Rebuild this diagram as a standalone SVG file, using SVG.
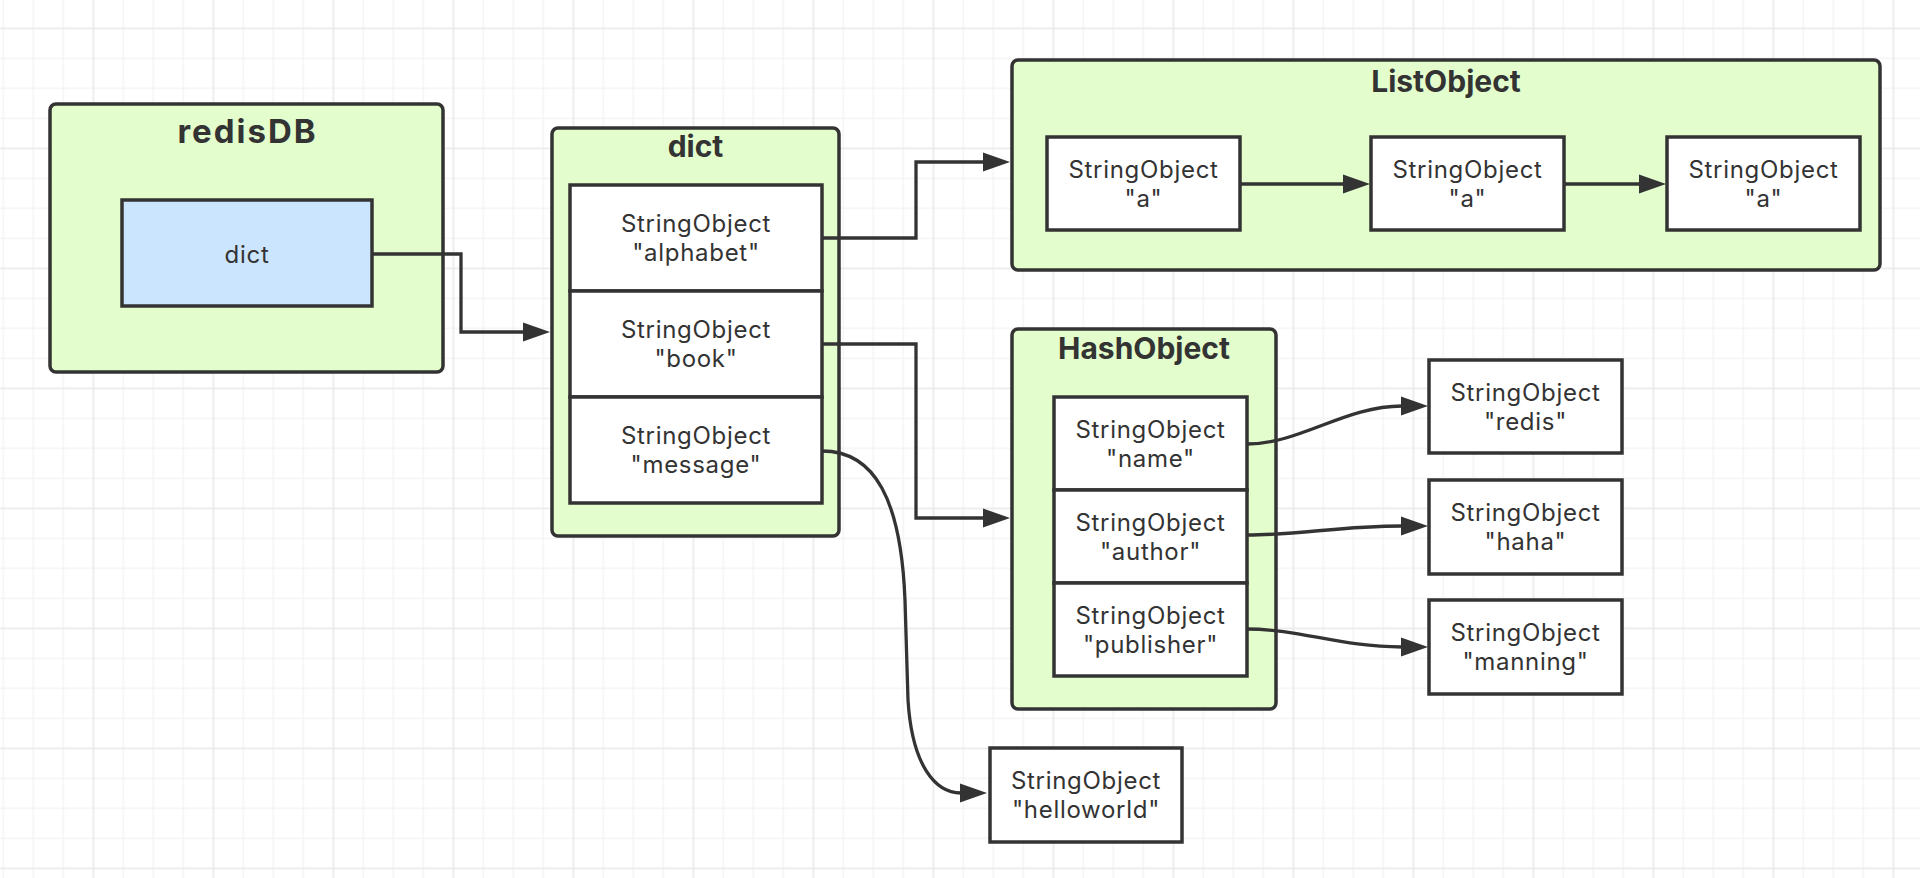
<svg xmlns="http://www.w3.org/2000/svg" width="1920" height="878" viewBox="0 0 1920 878">
<defs>
<pattern id="grid" patternUnits="userSpaceOnUse" x="-27.4" y="27.6" width="120" height="120">
<rect x="0" y="0" width="120" height="120" fill="#ffffff"/>
<rect x="30" y="0" width="1.3" height="120" fill="#f3f3f3"/>
<rect x="60" y="0" width="1.3" height="120" fill="#f3f3f3"/>
<rect x="90" y="0" width="1.3" height="120" fill="#f3f3f3"/>
<rect x="0" y="30" width="120" height="1.3" fill="#f3f3f3"/>
<rect x="0" y="60" width="120" height="1.3" fill="#f3f3f3"/>
<rect x="0" y="90" width="120" height="1.3" fill="#f3f3f3"/>
<rect x="0" y="0" width="1.5" height="120" fill="#e8e8e8"/>
<rect x="0" y="0" width="120" height="1.5" fill="#e8e8e8"/>
</pattern>
<marker id="arrow" markerUnits="userSpaceOnUse" markerWidth="28" markerHeight="20" viewBox="0 0 28 20" refX="1" refY="10" orient="auto">
<path d="M0,0.5 L27,10 L0,19.5 Z" fill="#333333"/>
</marker>
<style>
.container{fill:#e4fdcc;stroke:#333333;stroke-width:3.5}
.box{fill:#ffffff;stroke:#333333;stroke-width:3.5}
.blue{fill:#cce5ff;stroke:#333333;stroke-width:3.5}
.title{font-family:Inter,"Noto Sans","Liberation Sans",sans-serif;font-weight:bold;font-size:30px;fill:#333333;text-anchor:middle}
.big{font-size:33px;letter-spacing:2px}
.label{font-family:Inter,"Noto Sans","Liberation Sans",sans-serif;font-size:24px;letter-spacing:0.7px;fill:#333333;text-anchor:middle}
.edge{fill:none;stroke:#333333;stroke-width:3.3;marker-end:url(#arrow)}
</style>
</defs>
<rect x="0" y="0" width="1920" height="878" fill="url(#grid)"/>

<g id="redisDB">
<rect class="container" x="50" y="104" width="393" height="268" rx="6"/>
<text class="title big" x="247.5" y="143">redisDB</text>
<rect class="blue" x="122" y="200" width="250" height="106"/>
<text class="label" x="247" y="263">dict</text>
</g>

<g id="dict">
<rect class="container" x="552" y="128" width="287" height="408" rx="6"/>
<text class="title" x="695.5" y="157">dict</text>
<rect class="box" x="570" y="185" width="252" height="106"/>
<text class="label" x="696" y="232">StringObject</text>
<text class="label" x="696" y="261">"alphabet"</text>
<rect class="box" x="570" y="291" width="252" height="106"/>
<text class="label" x="696" y="338">StringObject</text>
<text class="label" x="696" y="367">"book"</text>
<rect class="box" x="570" y="397" width="252" height="106"/>
<text class="label" x="696" y="444">StringObject</text>
<text class="label" x="696" y="473">"message"</text>
</g>

<g id="ListObject">
<rect class="container" x="1012" y="60" width="868" height="210" rx="6"/>
<text class="title" x="1446" y="92">ListObject</text>
<rect class="box" x="1047" y="137" width="193" height="93"/>
<text class="label" x="1143.5" y="177.5">StringObject</text>
<text class="label" x="1143.5" y="206.5">"a"</text>
<rect class="box" x="1371" y="137" width="193" height="93"/>
<text class="label" x="1467.5" y="177.5">StringObject</text>
<text class="label" x="1467.5" y="206.5">"a"</text>
<rect class="box" x="1667" y="137" width="193" height="93"/>
<text class="label" x="1763.5" y="177.5">StringObject</text>
<text class="label" x="1763.5" y="206.5">"a"</text>
</g>

<g id="HashObject">
<rect class="container" x="1012" y="329" width="264" height="380" rx="6"/>
<text class="title" x="1144" y="359">HashObject</text>
<rect class="box" x="1054" y="397" width="193" height="93"/>
<text class="label" x="1150.5" y="437.5">StringObject</text>
<text class="label" x="1150.5" y="466.5">"name"</text>
<rect class="box" x="1054" y="490" width="193" height="93"/>
<text class="label" x="1150.5" y="530.5">StringObject</text>
<text class="label" x="1150.5" y="559.5">"author"</text>
<rect class="box" x="1054" y="583" width="193" height="93"/>
<text class="label" x="1150.5" y="623.5">StringObject</text>
<text class="label" x="1150.5" y="652.5">"publisher"</text>
</g>

<g id="redis">
<rect class="box" x="1429" y="360" width="193" height="93"/>
<text class="label" x="1525.5" y="400.5">StringObject</text>
<text class="label" x="1525.5" y="429.5">"redis"</text>
</g>
<g id="haha">
<rect class="box" x="1429" y="480" width="193" height="94"/>
<text class="label" x="1525.5" y="521">StringObject</text>
<text class="label" x="1525.5" y="550">"haha"</text>
</g>
<g id="manning">
<rect class="box" x="1429" y="600" width="193" height="94"/>
<text class="label" x="1525.5" y="641">StringObject</text>
<text class="label" x="1525.5" y="670">"manning"</text>
</g>
<g id="helloworld">
<rect class="box" x="990" y="748" width="192" height="94"/>
<text class="label" x="1086" y="789">StringObject</text>
<text class="label" x="1086" y="818">"helloworld"</text>
</g>

<g id="connectors">
<path class="edge" d="M372,254 H461 V332 H524"/>
<path class="edge" d="M822,238 H916 V162 H984"/>
<path class="edge" d="M822,344 H916 V518 H984"/>
<path class="edge" d="M822,451 C875,451 901,500 905,600 L908,700 C912,765 935,793 961,793"/>
<path class="edge" d="M1240,184 H1344"/>
<path class="edge" d="M1564,184 H1640"/>
<path class="edge" d="M1247,444 C1300,444 1345,406 1402,406"/>
<path class="edge" d="M1247,535 C1300,535 1340,526 1402,526"/>
<path class="edge" d="M1247,629 C1300,629 1340,647 1402,647"/>
</g>
</svg>
